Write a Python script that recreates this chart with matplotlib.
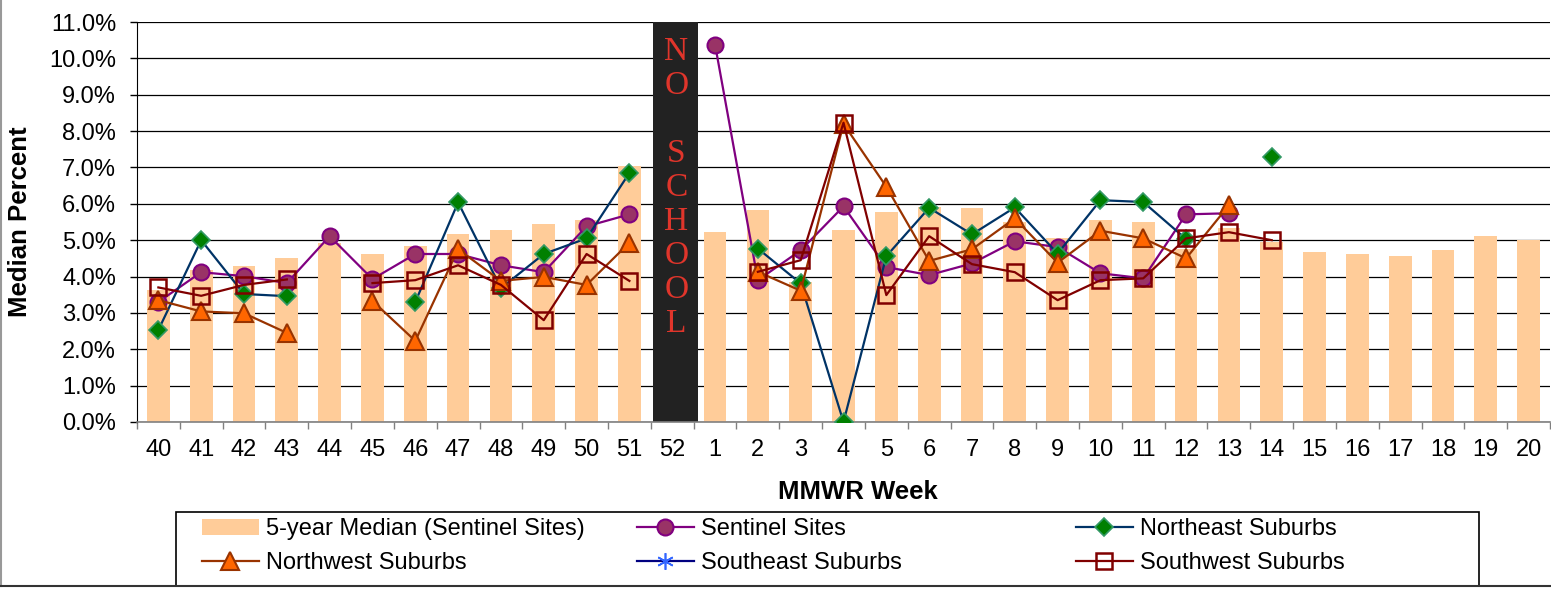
import numpy as np
import matplotlib.pyplot as plt
from matplotlib.patches import Rectangle
from matplotlib.lines import Line2D

plt.rcParams['font.family'] = ['Liberation Sans', 'DejaVu Sans']

nan = np.nan

# MMWR weeks, season runs from week 40 through week 20
weeks = [str(w) for w in range(40, 53)] + [str(w) for w in range(1, 21)]

# values in percent, nan = no data
median_5yr = [3.63, 4.18, 4.29, 4.51, 4.92, 4.62, 4.84, 5.16, 5.27, 5.44, 5.55, 7.03, nan,
              5.22, 5.82, 3.85, 5.27, 5.77, 5.90, 5.88, 5.49, 5.05, 5.55, 5.49, 4.75, 5.33,
              4.95, 4.67, 4.62, 4.56, 4.73, 5.11, 5.00]
sentinel = [3.30, 4.12, 4.01, 3.82, 5.11, 3.93, 4.62, 4.62, 4.31, 4.12, 5.38, 5.71, nan,
            10.38, 3.90, 4.72, 5.93, 4.26, 4.04, 4.36, 4.97, 4.81, 4.09, 3.95, 5.71, 5.74,
            nan, nan, nan, nan, nan, nan, nan]
northeast = [2.53, 5.00, 3.52, 3.46, nan, nan, 3.30, 6.04, 3.68, 4.62, 5.05, 6.85, nan,
             nan, 4.77, 3.81, 0.00, 4.56, 5.89, 5.16, 5.90, 4.63, 6.10, 6.05, 5.03, nan,
             7.30, nan, nan, nan, nan, nan, nan]
northwest = [3.35, 3.04, 2.99, 2.45, nan, 3.33, 2.23, 4.75, 3.88, 3.99, 3.77, 4.93, nan,
             nan, 4.13, 3.61, 8.20, 6.47, 4.43, 4.75, 5.60, 4.38, 5.26, 5.05, 4.50, 5.96,
             nan, nan, nan, nan, nan, nan, nan]
southeast = [nan] * len(weeks)
southwest = [3.70, 3.47, 3.77, 3.92, nan, 3.82, 3.90, 4.31, 3.77, 2.80, 4.62, 3.88, nan,
             nan, 4.13, 4.45, 8.23, 3.49, 5.11, 4.34, 4.12, 3.35, 3.90, 3.95, 5.05, 5.22,
             5.00, nan, nan, nan, nan, nan, nan]

no_school_week = '52'
no_school_top = 11.0
no_school_text = 'N\nO\n\nS\nC\nH\nO\nO\nL'

x = np.arange(len(weeks))

fig = plt.figure(figsize=(15.51, 5.92), dpi=100)
ax = fig.add_axes([0.0883, 0.2872, 0.9111, 0.6756])

bars = ax.bar(x, median_5yr, width=0.53, color='#FFCC99', zorder=1,
              label='5-year Median (Sentinel Sites)')

# the black "no school" column
i_ns = weeks.index(no_school_week)
ax.bar(i_ns + 0.08, no_school_top, width=1.05, color='#222222', zorder=2)
ax.text(i_ns + 0.1, 6.45, no_school_text, ha='center', va='center', color='#E0352B',
        fontsize=24, family='Liberation Serif', linespacing=1.15, zorder=3)

lw = 1.6
l_sent, = ax.plot(x, sentinel, color='#800080', lw=lw, marker='o', ms=11.5,
                  mfc='#993366', mec='#800080', mew=1.5, zorder=4, label='Sentinel Sites')
l_ne, = ax.plot(x, northeast, color='#003366', lw=lw, marker='D', ms=9,
                mfc='#008000', mec='#339966', mew=1.2, zorder=5, label='Northeast Suburbs')
l_nw, = ax.plot(x, northwest, color='#993300', lw=lw, marker='^', ms=13,
                mfc='#FF6600', mec='#993300', mew=1.5, zorder=6, label='Northwest Suburbs')
l_se, = ax.plot(x, southeast, color='#000080', lw=lw, marker=(6, 2, 0), ms=12,
                mfc='#3366FF', mec='#3366FF', mew=1.2, zorder=7, label='Southeast Suburbs')
l_sw, = ax.plot(x, southwest, color='#800000', lw=lw, marker='s', ms=11,
                mfc='none', mec='#800000', mew=1.8, zorder=8, label='Southwest Suburbs')

# axes
ax.set_xlim(-0.5, len(weeks) - 0.5)
ax.set_ylim(0, 11)
ax.set_yticks(np.arange(0, 11.5, 1))
ax.yaxis.set_major_formatter(plt.FuncFormatter(lambda v, p: f'{v:.1f}%'))
ax.set_xticks(x)
ax.set_xticklabels(weeks)
ax.set_xticks(np.arange(-0.5, len(weeks), 1), minor=True)
ax.tick_params(axis='x', which='major', length=0, pad=12, labelsize=17)
ax.tick_params(axis='x', which='minor', length=5, width=1, color='#808080', direction='out')
ax.tick_params(axis='y', length=5, width=1, pad=10, labelsize=17, direction='out')

ax.grid(axis='y', color='black', lw=0.9)
ax.set_axisbelow(True)
for s in ['top', 'right']:
    ax.spines[s].set_visible(False)
ax.spines['left'].set_color('black')
ax.spines['bottom'].set_color('#808080')
ax.spines['bottom'].set_linewidth(1.2)

ax.set_ylabel('Median Percent', fontsize=18.5, fontweight='bold', labelpad=12)
ax.set_xlabel('MMWR Week', fontsize=18.5, fontweight='bold')
ax.xaxis.set_label_coords(0.51, -0.145)

# legend: three columns in a single box
W, H = 1551.0, 592.0
fig.add_artist(Rectangle((176 / W, 1 - 586 / H), (1479 - 176) / W, (586 - 512) / H,
                         transform=fig.transFigure, fill=False, ec='black', lw=1.2))
cols = [([bars, l_nw], 202), ([l_sent, l_se], 637), ([l_ne, l_sw], 1076)]
for handles, xpix in cols:
    fig.legend(handles=handles, labels=[h.get_label() for h in handles],
               loc='center left', bbox_to_anchor=(xpix / W, 1 - 546 / H),
               frameon=False, fontsize=17, handlelength=2.4, handletextpad=0.3,
               labelspacing=0.5, borderpad=0, borderaxespad=0, numpoints=1)

# outer chart border (left and bottom visible)
fig.add_artist(Line2D([0.0006, 0.0006], [1 - 586 / H, 1], transform=fig.transFigure,
                      color='#999999', lw=1.5))
fig.add_artist(Line2D([0, 1], [1 - 586 / H, 1 - 586 / H], transform=fig.transFigure,
                      color='#333333', lw=1.5))

fig.savefig('out.png', dpi=100)
